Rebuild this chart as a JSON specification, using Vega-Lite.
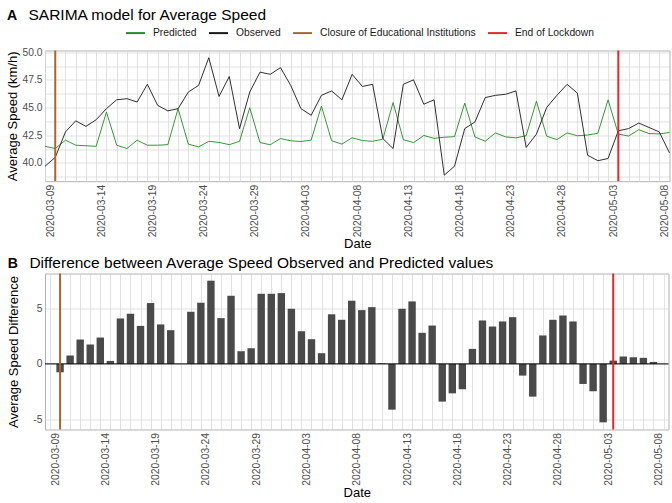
{
  "$schema": "https://vega.github.io/schema/vega-lite/v6.json",
  "padding": {"left": 6, "top": 6.5, "right": 2, "bottom": 0},
  "background": "white",
  "spacing": 4,
  "config": {
    "font": "Liberation Sans",
    "view": {"stroke": "#b3b3b3", "strokeWidth": 1},
    "axis": {"gridColor": "#d9d9d9", "gridWidth": 0.8, "domain": false, "ticks": false, "labelColor": "#4d4d4d", "labelFontSize": 10.3, "titleFontSize": 13, "titleFontWeight": "normal", "titleColor": "#000000", "labelPadding": 3},
    "title": {"anchor": "start", "frame": "bounds", "fontSize": 14, "fontWeight": "bold", "color": "#000000", "subtitleFontSize": 15.5, "subtitleColor": "#000000", "subtitlePadding": -15, "subtitleFont": "Liberation Sans"}
  },
  "datasets": {
    "speed": [
      {"date": "2020-03-09", "Observed": 39.7, "Predicted": 41.5},
      {"date": "2020-03-10", "Observed": 40.5, "Predicted": 41.3},
      {"date": "2020-03-11", "Observed": 42.8, "Predicted": 42.05},
      {"date": "2020-03-12", "Observed": 43.8, "Predicted": 41.6},
      {"date": "2020-03-13", "Observed": 43.3, "Predicted": 41.55},
      {"date": "2020-03-14", "Observed": 43.9, "Predicted": 41.5},
      {"date": "2020-03-15", "Observed": 44.9, "Predicted": 44.6},
      {"date": "2020-03-16", "Observed": 45.7, "Predicted": 41.6},
      {"date": "2020-03-17", "Observed": 45.8, "Predicted": 41.3},
      {"date": "2020-03-18", "Observed": 45.5, "Predicted": 42.05},
      {"date": "2020-03-19", "Observed": 47.1, "Predicted": 41.6},
      {"date": "2020-03-20", "Observed": 45.2, "Predicted": 41.6},
      {"date": "2020-03-21", "Observed": 44.7, "Predicted": 41.65},
      {"date": "2020-03-22", "Observed": 44.9, "Predicted": 44.9},
      {"date": "2020-03-23", "Observed": 46.4, "Predicted": 41.7},
      {"date": "2020-03-24", "Observed": 47.0, "Predicted": 41.45},
      {"date": "2020-03-25", "Observed": 49.5, "Predicted": 41.95},
      {"date": "2020-03-26", "Observed": 46.0, "Predicted": 41.85},
      {"date": "2020-03-27", "Observed": 47.8, "Predicted": 41.65},
      {"date": "2020-03-28", "Observed": 43.1, "Predicted": 41.95},
      {"date": "2020-03-29", "Observed": 46.4, "Predicted": 44.98},
      {"date": "2020-03-30", "Observed": 48.2, "Predicted": 41.84},
      {"date": "2020-03-31", "Observed": 48.0, "Predicted": 41.64},
      {"date": "2020-04-01", "Observed": 48.6, "Predicted": 42.2},
      {"date": "2020-04-02", "Observed": 47.0, "Predicted": 42.0},
      {"date": "2020-04-03", "Observed": 44.9, "Predicted": 41.93},
      {"date": "2020-04-04", "Observed": 44.3, "Predicted": 42.06},
      {"date": "2020-04-05", "Observed": 46.1, "Predicted": 45.13},
      {"date": "2020-04-06", "Observed": 46.5, "Predicted": 42.0},
      {"date": "2020-04-07", "Observed": 45.7, "Predicted": 41.7},
      {"date": "2020-04-08", "Observed": 48.0, "Predicted": 42.27},
      {"date": "2020-04-09", "Observed": 46.9, "Predicted": 42.02},
      {"date": "2020-04-10", "Observed": 47.1, "Predicted": 41.95},
      {"date": "2020-04-11", "Observed": 42.2, "Predicted": 42.15},
      {"date": "2020-04-12", "Observed": 41.3, "Predicted": 45.45},
      {"date": "2020-04-13", "Observed": 47.1, "Predicted": 42.1},
      {"date": "2020-04-14", "Observed": 47.5, "Predicted": 41.83},
      {"date": "2020-04-15", "Observed": 45.3, "Predicted": 42.48},
      {"date": "2020-04-16", "Observed": 45.7, "Predicted": 42.22},
      {"date": "2020-04-17", "Observed": 38.9, "Predicted": 42.32},
      {"date": "2020-04-18", "Observed": 39.7, "Predicted": 42.37},
      {"date": "2020-04-19", "Observed": 43.1, "Predicted": 45.4},
      {"date": "2020-04-20", "Observed": 43.7, "Predicted": 42.34},
      {"date": "2020-04-21", "Observed": 45.9, "Predicted": 41.96},
      {"date": "2020-04-22", "Observed": 46.1, "Predicted": 42.71},
      {"date": "2020-04-23", "Observed": 46.2, "Predicted": 42.35},
      {"date": "2020-04-24", "Observed": 46.5, "Predicted": 42.26},
      {"date": "2020-04-25", "Observed": 41.4, "Predicted": 42.46},
      {"date": "2020-04-26", "Observed": 42.6, "Predicted": 45.57},
      {"date": "2020-04-27", "Observed": 45.0, "Predicted": 42.42},
      {"date": "2020-04-28", "Observed": 46.1, "Predicted": 42.1},
      {"date": "2020-04-29", "Observed": 47.1, "Predicted": 42.71},
      {"date": "2020-04-30", "Observed": 46.3, "Predicted": 42.45},
      {"date": "2020-05-01", "Observed": 40.7, "Predicted": 42.52},
      {"date": "2020-05-02", "Observed": 40.2, "Predicted": 42.68},
      {"date": "2020-05-03", "Observed": 40.4, "Predicted": 45.7},
      {"date": "2020-05-04", "Observed": 42.9, "Predicted": 42.6},
      {"date": "2020-05-05", "Observed": 43.1, "Predicted": 42.43},
      {"date": "2020-05-06", "Observed": 43.6, "Predicted": 43.0},
      {"date": "2020-05-07", "Observed": 43.2, "Predicted": 42.65},
      {"date": "2020-05-08", "Observed": 42.8, "Predicted": 42.62},
      {"date": "2020-05-09", "Observed": 40.9, "Predicted": 42.75}
    ],
    "difference": [
      {"date": "2020-03-10", "diff": -0.76},
      {"date": "2020-03-11", "diff": 0.76},
      {"date": "2020-03-12", "diff": 2.21},
      {"date": "2020-03-13", "diff": 1.76},
      {"date": "2020-03-14", "diff": 2.39},
      {"date": "2020-03-15", "diff": 0.27},
      {"date": "2020-03-16", "diff": 4.12},
      {"date": "2020-03-17", "diff": 4.55},
      {"date": "2020-03-18", "diff": 3.45},
      {"date": "2020-03-19", "diff": 5.52},
      {"date": "2020-03-20", "diff": 3.58},
      {"date": "2020-03-21", "diff": 3.06},
      {"date": "2020-03-22", "diff": 0.0},
      {"date": "2020-03-23", "diff": 4.73},
      {"date": "2020-03-24", "diff": 5.55},
      {"date": "2020-03-25", "diff": 7.55},
      {"date": "2020-03-26", "diff": 4.15},
      {"date": "2020-03-27", "diff": 6.18},
      {"date": "2020-03-28", "diff": 1.15},
      {"date": "2020-03-29", "diff": 1.42},
      {"date": "2020-03-30", "diff": 6.36},
      {"date": "2020-03-31", "diff": 6.36},
      {"date": "2020-04-01", "diff": 6.42},
      {"date": "2020-04-02", "diff": 5.0},
      {"date": "2020-04-03", "diff": 2.97},
      {"date": "2020-04-04", "diff": 2.24},
      {"date": "2020-04-05", "diff": 0.97},
      {"date": "2020-04-06", "diff": 4.5},
      {"date": "2020-04-07", "diff": 4.0},
      {"date": "2020-04-08", "diff": 5.73},
      {"date": "2020-04-09", "diff": 4.88},
      {"date": "2020-04-10", "diff": 5.15},
      {"date": "2020-04-11", "diff": 0.05},
      {"date": "2020-04-12", "diff": -4.15},
      {"date": "2020-04-13", "diff": 5.0},
      {"date": "2020-04-14", "diff": 5.67},
      {"date": "2020-04-15", "diff": 2.82},
      {"date": "2020-04-16", "diff": 3.48},
      {"date": "2020-04-17", "diff": -3.42},
      {"date": "2020-04-18", "diff": -2.67},
      {"date": "2020-04-19", "diff": -2.3},
      {"date": "2020-04-20", "diff": 1.36},
      {"date": "2020-04-21", "diff": 3.94},
      {"date": "2020-04-22", "diff": 3.39},
      {"date": "2020-04-23", "diff": 3.85},
      {"date": "2020-04-24", "diff": 4.24},
      {"date": "2020-04-25", "diff": -1.06},
      {"date": "2020-04-26", "diff": -2.97},
      {"date": "2020-04-27", "diff": 2.58},
      {"date": "2020-04-28", "diff": 4.0},
      {"date": "2020-04-29", "diff": 4.39},
      {"date": "2020-04-30", "diff": 3.85},
      {"date": "2020-05-01", "diff": -1.82},
      {"date": "2020-05-02", "diff": -2.48},
      {"date": "2020-05-03", "diff": -5.3},
      {"date": "2020-05-04", "diff": 0.3},
      {"date": "2020-05-05", "diff": 0.67},
      {"date": "2020-05-06", "diff": 0.6},
      {"date": "2020-05-07", "diff": 0.55},
      {"date": "2020-05-08", "diff": 0.18}
    ],
    "events": [
      {"date": "2020-03-10", "series": "Closure of Educational Institutions"},
      {"date": "2020-05-04", "series": "End of Lockdown"}
    ]
  },
  "resolve": {"scale": {"color": "independent", "x": "independent", "y": "independent"}, "legend": {"color": "independent"}},
  "vconcat": [
    {
      "width": 624.5,
      "height": 130.7,
      "title": {"text": "A", "subtitle": "\u200b\u00a0\u00a0\u00a0\u00a0\u00a0SARIMA model for Average Speed", "offset": -1.5},
      "layer": [
        {
          "data": {"name": "speed"},
          "transform": [{"fold": ["Predicted", "Observed"], "as": ["series", "value"]}],
          "mark": {"type": "line", "strokeWidth": 0.9},
          "encoding": {
            "x": {
              "field": "date", "type": "temporal",
              "scale": {"type": "utc", "domain": [{"year": 2020, "month": 3, "date": 9, "utc": true}, {"year": 2020, "month": 5, "date": 9, "utc": true}]},
              "axis": {"title": "Date", "tickCount": {"interval": "day", "step": 1}, "labelExpr": "(round((datum.value - utc(2020,2,9)) / 86400000) % 5 == 0) ? utcFormat(datum.value, '%Y-%m-%d') : ''", "labelAngle": 270, "labelAlign": "right", "labelBaseline": "top", "labelOverlap": false, "labelFlush": false, "labelBound": false, "titlePadding": 1}
            },
            "y": {
              "field": "value", "type": "quantitative",
              "scale": {"domain": [38.35, 50.15], "nice": false, "zero": false},
              "axis": {"title": "Average Speed (km/h)", "values": [38.75, 40, 41.25, 42.5, 43.75, 45, 46.25, 47.5, 48.75, 50], "labelExpr": "datum.value % 2.5 == 0 ? format(datum.value, '.1f') : ''", "titlePadding": 2}
            },
            "color": {
              "field": "series", "type": "nominal",
              "scale": {"domain": ["Predicted", "Observed", "Closure of Educational Institutions", "End of Lockdown"], "range": ["#238b23", "#1a1a1a", "#a5692f", "#e8262b"]},
              "legend": {"title": null, "orient": "none", "legendX": 80, "legendY": -28, "direction": "horizontal", "symbolType": "stroke", "symbolSize": 360, "symbolStrokeWidth": 2, "labelFontSize": 10.3, "labelColor": "#1a1a1a", "columnPadding": 8, "labelOffset": 7, "padding": 0}
            }
          }
        },
        {
          "data": {"name": "events"},
          "mark": {"type": "rule", "strokeWidth": 2},
          "encoding": {
            "x": {"field": "date", "type": "temporal"},
            "color": {"field": "series", "type": "nominal"}
          }
        }
      ]
    },
    {
      "width": 623.5,
      "height": 156,
      "title": {"text": "B", "subtitle": "\u200b\u00a0\u00a0\u00a0\u00a0\u00a0Difference between Average Speed Observed and Predicted values", "offset": 0},
      "layer": [
        {
          "data": {"name": "difference"},
          "mark": {"type": "bar", "width": 7.4, "color": "#4a4a4a"},
          "encoding": {
            "x": {
              "field": "date", "type": "temporal",
              "scale": {"type": "utc", "domain": [{"year": 2020, "month": 3, "date": 9, "utc": true}, {"year": 2020, "month": 5, "date": 9, "utc": true}]},
              "axis": {"title": "Date", "tickCount": {"interval": "day", "step": 1}, "labelExpr": "(round((datum.value - utc(2020,2,9)) / 86400000) % 5 == 0) ? utcFormat(datum.value, '%Y-%m-%d') : ''", "labelAngle": 270, "labelAlign": "right", "labelBaseline": "top", "labelOverlap": false, "labelFlush": false, "labelBound": false, "titlePadding": 1}
            },
            "y": {
              "field": "diff", "type": "quantitative",
              "scale": {"domain": [-5.95, 8.2], "nice": false, "zero": false},
              "axis": {"title": "Average Speed Difference", "values": [-5, -2.5, 0, 2.5, 5, 7.5], "labelExpr": "datum.value % 5 == 0 ? '' + datum.value : ''", "titlePadding": 12}
            }
          }
        },
        {
          "data": {"values": [{}]},
          "mark": {"type": "rule", "color": "#000000", "strokeWidth": 1},
          "encoding": {"y": {"datum": 0}}
        },
        {
          "data": {"name": "events"},
          "mark": {"type": "rule", "strokeWidth": 2},
          "encoding": {
            "x": {"field": "date", "type": "temporal"},
            "color": {"field": "series", "type": "nominal", "scale": {"domain": ["Closure of Educational Institutions", "End of Lockdown"], "range": ["#a5692f", "#e8262b"]}, "legend": null}
          }
        }
      ]
    }
  ]
}
